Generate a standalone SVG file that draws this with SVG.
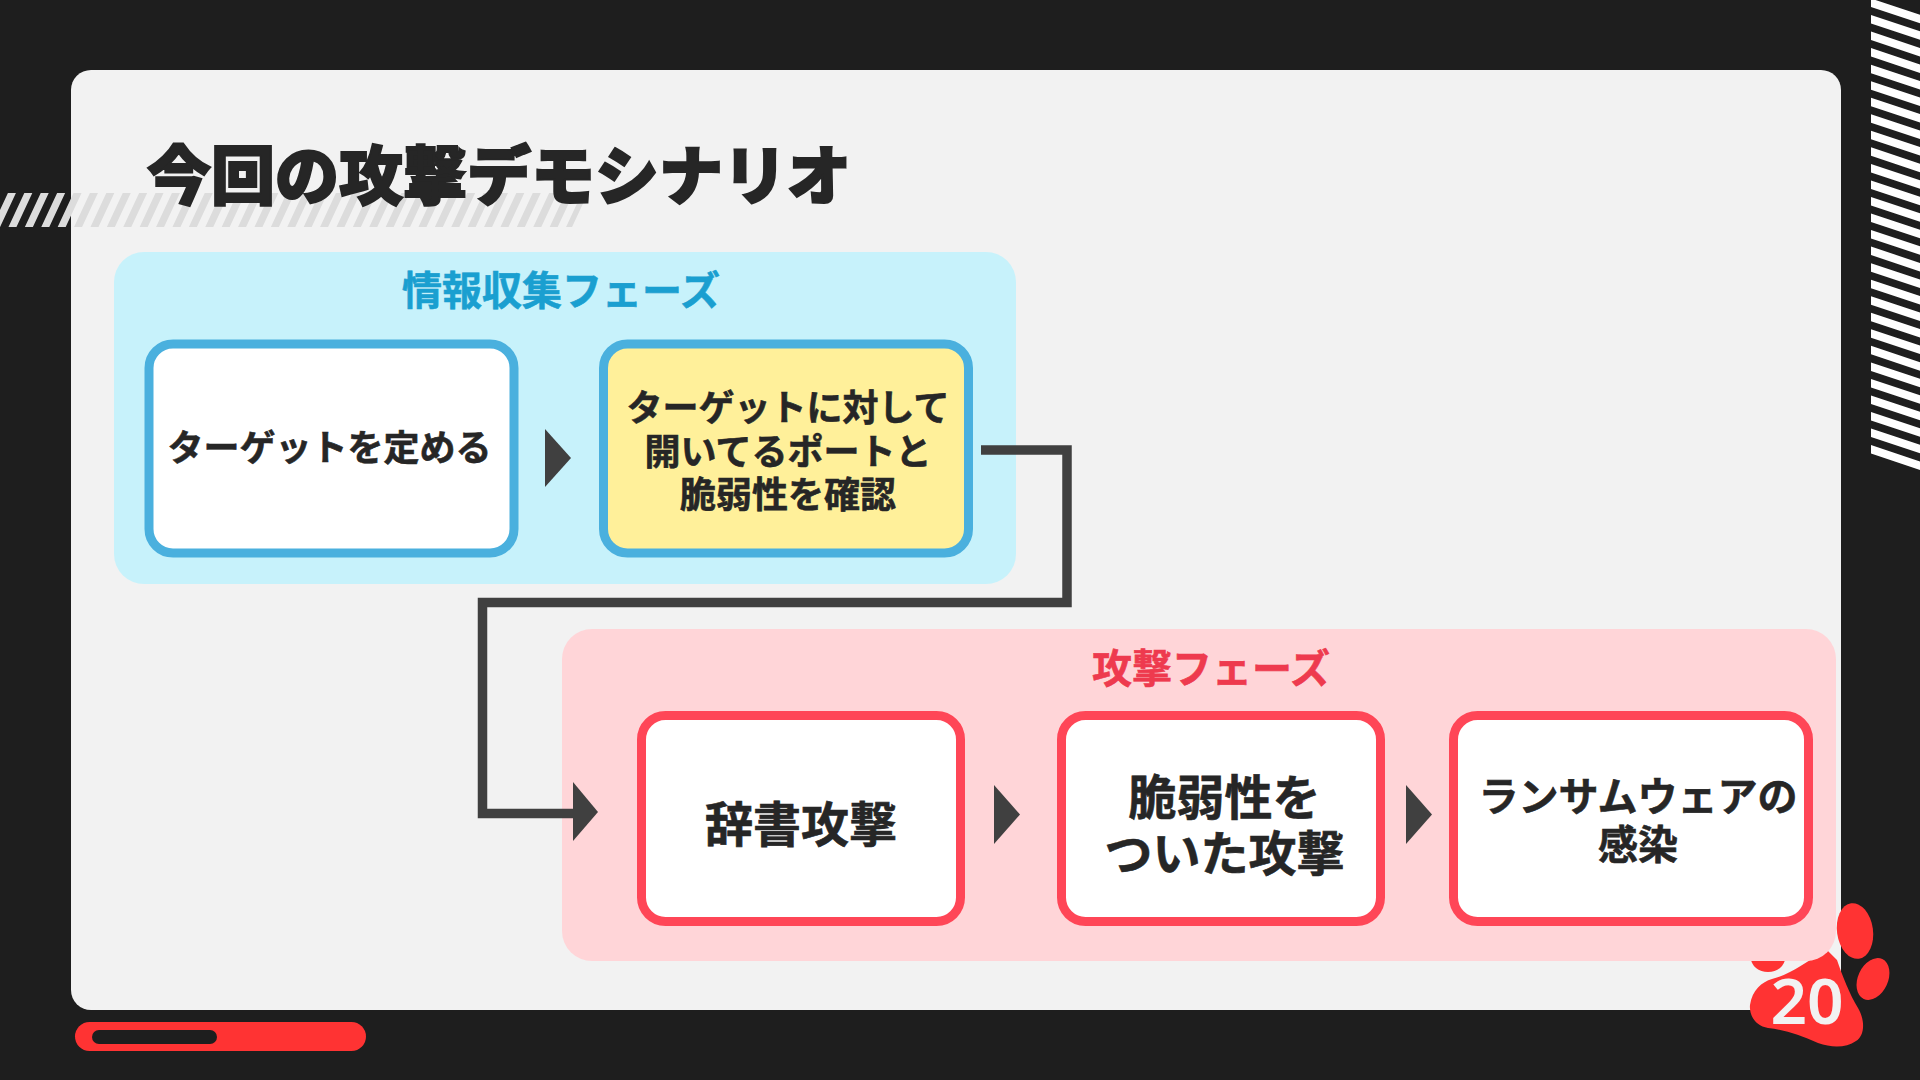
<svg xmlns="http://www.w3.org/2000/svg" width="1920" height="1080" viewBox="0 0 1920 1080">
<style>
text{font-family:"Noto Sans CJK JP","Noto Sans",sans-serif;font-weight:700;fill:#262626;text-anchor:middle;stroke:#262626;stroke-width:.6px}
.b{fill:#fff;stroke:#4ab0de;stroke-width:9}
.r{fill:#fff;stroke:#ff4657;stroke-width:9}
.a{fill:#404040}
.paw{fill:#ff3333}
</style>
<rect width="1920" height="1080" fill="#1e1e1e"/>
<rect x="71" y="70" width="1770" height="940" rx="20" fill="#f2f2f2"/>
<path d="M0 0H580" transform="translate(0,210) skewX(-25)" fill="none" stroke="#dcdcdc" stroke-width="34" stroke-dasharray="8 8.4"/>
<path d="M0 6.65V462.5" transform="translate(1895.5,0) skewY(18.4)" fill="none" stroke="#fff" stroke-width="49" stroke-dasharray="8.5 8.04"/>
<rect x="75" y="1022" width="291" height="29" rx="14.5" fill="#ff3333"/>
<rect x="92" y="1030" width="125" height="14" rx="7" fill="#1e1e1e"/>
<g id="paw">
<ellipse class="paw" cx="1855" cy="931" rx="18" ry="28" transform="rotate(-8 1855 931)"/>
<ellipse class="paw" cx="1873" cy="979" rx="15" ry="22" transform="rotate(25 1873 979)"/>
<ellipse class="paw" cx="1768" cy="958" rx="17" ry="14"/>
<path class="paw" d="M1750 1005C1752 990 1762 982 1772 979C1790 975 1805 962 1827 950L1837 960C1842 975 1850 995 1858 1008C1866 1022 1864 1036 1856 1041C1846 1048 1832 1048 1818 1043C1800 1035 1785 1030 1768 1028C1756 1026 1749 1016 1750 1005Z"/>
<text x="1807" y="1024" style="font-family:'Noto Sans',sans-serif;font-weight:600;font-size:64px;fill:#f2f2f2;stroke:none">20</text>
</g>
<text id="title" x="499" y="199" style="font-size:64px;font-weight:900;stroke-width:2px">今回の攻撃デモシナリオ</text>
<g id="phase-recon">
<rect x="114" y="252" width="902" height="332" rx="30" fill="#c7f2fb"/>
<text x="561" y="305" style="font-size:40px;fill:#1a9fd0;stroke:#1a9fd0">情報収集フェーズ</text>
</g>
<g id="phase-attack">
<rect x="562" y="629" width="1274" height="332" rx="30" fill="#ffd5d8"/>
<text x="1211" y="683" style="font-size:40px;fill:#ee3a4e;stroke:#ee3a4e">攻撃フェーズ</text>
</g>
<g id="connectors">
<path d="M981 450H1067V602.5H482.5V813.5H580" fill="none" stroke="#404040" stroke-width="9.5"/>
<path class="a" d="M573 782L598 812L573 841Z"/>
<path class="a" d="M545 429L571 458L545 487Z"/>
<path class="a" d="M994 785L1020 814.500L994 844Z"/>
<path class="a" d="M1406 785L1432 814.500L1406 844Z"/>
</g>
<g id="n1"><rect class="b" x="149" y="344" width="365" height="209" rx="24"/>
<text x="329.500" y="461" style="font-size:36px">ターゲットを定める</text></g>
<g id="n2"><rect class="b" x="603.500" y="344" width="365" height="209" rx="24" style="fill:#fff09a"/>
<text style="font-size:36px"><tspan x="788" y="421">ターゲットに対して</tspan><tspan x="788" y="465">開いてるポートと</tspan><tspan x="788" y="508">脆弱性を確認</tspan></text></g>
<g id="n3"><rect class="r" x="641.500" y="715.500" width="319" height="206" rx="24"/>
<text x="801" y="842" style="font-size:48px">辞書攻撃</text></g>
<g id="n4"><rect class="r" x="1061.500" y="715.500" width="319" height="206" rx="24"/>
<text style="font-size:48px"><tspan x="1224.500" y="815">脆弱性を</tspan><tspan x="1224.500" y="871">ついた攻撃</tspan></text></g>
<g id="n5"><rect class="r" x="1453.500" y="715.500" width="355" height="206" rx="24"/>
<text style="font-size:40px"><tspan x="1638" y="811">ランサムウェアの</tspan><tspan x="1638" y="859">感染</tspan></text></g>
</svg>
